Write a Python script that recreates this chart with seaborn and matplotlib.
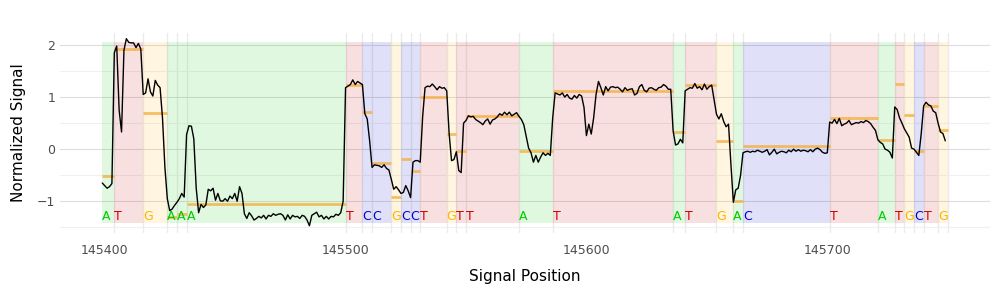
import numpy as np
import pandas as pd
import matplotlib
matplotlib.use("Agg")
import matplotlib.pyplot as plt
import seaborn as sns

# bases of the read with their start in signal coordinates
bases = ["A", "T", "G", "A", "A", "A", "T", "C", "C", "G", "C", "C", "T", "G", "T",
         "T", "A", "T", "A", "T", "G", "A", "C", "T", "A", "T", "G", "C", "T", "G"]
base_starts = [145399, 145404, 145416, 145426, 145430, 145434, 145500, 145507, 145511,
               145519, 145523, 145527, 145531, 145542, 145546, 145550, 145572, 145586,
               145636, 145641, 145654, 145661, 145665, 145701, 145721, 145728, 145732,
               145736, 145740, 145746]
read_end = 145750

# expected (model) level for each base
expected_levels = [-0.52, 1.93, 0.69, -1.3, -1.25, -1.05, 1.24, 0.71, -0.26, -0.91,
                   -0.19, -0.41, 1.01, 0.29, -0.03, 0.64, -0.03, 1.11, 0.33, 1.23,
                   0.16, -0.99, 0.06, 0.59, 0.17, 1.26, 0.66, -0.03, 0.83, 0.36]

# normalized raw signal, one value per signal position starting at signal_start
signal_start = 145399
signal = [
    -0.65, -0.7, -0.75, -0.72, -0.66, 1.85, 1.98, 0.75, 0.33, 1.9,
    2.12, 2.05, 2.04, 2.04, 1.95, 2.03, 1.92, 1.05, 1.08,
    1.35, 1.1, 1.02, 1.32, 1.23, 1.18, 0.6, -0.35, -0.95, -1.18,
    -1.15, -1.08, -1.02, -0.95, -0.85, -0.92, 0.28, 0.45, 0.44, 0.2,
    -0.75, -1.22, -1.06, -1.12, -1.07, -0.77, -0.8, -0.75, -0.98, -0.85,
    -0.99, -1.0, -0.95, -1.0, -0.9, -0.95, -0.85, -1.0, -0.72,
    -0.85, -1.24, -1.33, -1.22, -1.28, -1.36, -1.33, -1.29, -1.32, -1.27,
    -1.34, -1.27, -1.29, -1.24, -1.27, -1.25, -1.24, -1.27, -1.36, -1.26,
    -1.34, -1.27, -1.3, -1.29, -1.33, -1.27, -1.29, -1.36, -1.47, -1.27,
    -1.24, -1.21, -1.3, -1.27, -1.34, -1.29, -1.34, -1.29, -1.3,
    -1.25, -1.27, -1.22, -1.0, 1.18, 1.21, 1.24, 1.33, 1.24, 1.3,
    1.27, 1.24, 0.68, 0.58, 0.16, -0.35, -0.3, -0.31, -0.32, -0.35,
    -0.3, -0.37, -0.4, -0.58, -0.77, -0.72, -0.78, -0.85, -0.83, -0.7,
    -0.8, -0.93, -0.25, -0.22, -0.22, -0.25, 0.62, 1.18, 1.21, 1.2,
    1.25, 1.2, 1.14, 1.2, 1.17, 1.18, 1.12, 0.3, -0.22,
    -0.2, -0.05, -0.41, -0.45, 0.5, 0.55, 0.64, 0.62, 0.63, 0.57,
    0.54, 0.51, 0.47, 0.54, 0.58, 0.48, 0.56, 0.58, 0.62, 0.68,
    0.65, 0.71, 0.66, 0.71, 0.64, 0.67, 0.7, 0.63, 0.57, 0.47,
    0.25, 0.02, -0.07, -0.25, -0.12, -0.25, -0.15, -0.07, -0.12,
    -0.08, -0.12, 0.6, 1.08, 1.06, 1.04, 1.08, 1.0, 1.05, 0.98,
    0.96, 1.03, 0.98, 1.05, 1.02, 0.8, 0.26, 0.48, 0.29, 0.6,
    1.05, 1.3, 1.18, 1.04, 1.2, 1.12, 1.19, 1.2, 1.18, 1.19,
    1.15, 1.1, 1.18, 1.13, 1.15, 1.16, 1.04, 1.07, 1.2,
    1.24, 1.13, 1.1, 1.17, 1.18, 1.15, 1.13, 1.18, 1.19, 1.24,
    1.21, 1.15, 1.15, 0.35, 0.08, 0.1, 0.19, 0.12, 1.12, 1.15,
    1.18, 1.17, 1.26, 1.17, 1.2, 1.14, 1.25, 1.15, 1.2, 1.23,
    0.95, 0.67, 0.58, 0.68, 0.53, 0.43, 0.48, -0.3, -1.02,
    -0.78, -0.75, -0.5, -0.07, -0.05, -0.04, -0.06, -0.04, -0.05, -0.02,
    -0.04, -0.06, -0.04, -0.01, -0.11, -0.06, 0.0, -0.09, -0.06, -0.04,
    -0.05, -0.07, -0.02, -0.05, 0.0, -0.04, -0.01, -0.04, -0.02, -0.03,
    -0.05, -0.01, -0.05, 0.0, 0.02, -0.01, -0.06, -0.08, -0.07,
    0.52, 0.5, 0.57, 0.49, 0.59, 0.45, 0.48, 0.5, 0.55, 0.47,
    0.49, 0.51, 0.5, 0.53, 0.51, 0.55, 0.53, 0.49, 0.42, 0.36,
    0.18, 0.13, 0.1, 0.0, -0.02, -0.06, -0.17, 0.81, 0.76, 0.6,
    0.5, 0.39, 0.31, 0.23, 0.02, 0.0, -0.06, -0.12, 0.3, 0.83,
    0.9, 0.85, 0.83, 0.73, 0.7, 0.5, 0.33, 0.3, 0.16,
]

base_colors = {"A": "#00CC00", "C": "#0000CC", "G": "#FFB300", "T": "#CC0000"}

df = pd.DataFrame({"pos": np.arange(signal_start, signal_start + len(signal)),
                   "signal": signal})
ends = base_starts[1:] + [read_end]

sns.set_theme(style="whitegrid")
plt.rcParams["font.family"] = ["DejaVu Sans"]

fig, ax = plt.subplots(figsize=(10, 3), dpi=100)
fig.subplots_adjust(left=0.06, right=0.99, bottom=0.225, top=0.89)

# shaded base regions
widths = [e - s for s, e in zip(base_starts, ends)]
ax.bar(base_starts, height=3.48, bottom=-1.42, width=widths, align="edge",
       color=[base_colors[b] for b in bases], alpha=0.12, linewidth=0, zorder=1)
for e in ends:
    ax.axvline(e, color="#ebebeb", lw=1, zorder=0.5)

# expected levels
ax.hlines(expected_levels, base_starts, ends, color="#F5B041", alpha=0.8, lw=2, zorder=2)

# signal
sns.lineplot(data=df, x="pos", y="signal", color="black", lw=1, ax=ax, zorder=3)

# base letters
for b, s in zip(bases, base_starts):
    ax.text(s, -1.3, b, color=base_colors[b], fontsize=9, ha="left", va="center", zorder=4)

ax.set_xticks([145400, 145500, 145600, 145700])
ax.set_yticks([-1, 0, 1, 2])
ax.set_yticks([-1.5, -0.5, 0.5, 1.5], minor=True)
ax.grid(axis="x", visible=False)
ax.grid(axis="y", which="major", color="#dddddd", lw=0.8)
ax.grid(axis="y", which="minor", color="#f0f0f0", lw=0.8)
ax.set_axisbelow(True)
for sp in ax.spines.values():
    sp.set_visible(False)
ax.tick_params(axis="both", labelsize=9, colors="#4d4d4d", length=0)
ax.tick_params(axis="x", pad=8)
ax.set_xlabel("Signal Position", fontsize=11, color="black", labelpad=9)
ax.set_ylabel("Normalized Signal", fontsize=11, color="black", labelpad=8)
ax.margins(x=0.05, y=0.05)
ax.set_ylim(-1.6, 2.23)

plt.savefig("out.png", dpi=100)
plt.close()
